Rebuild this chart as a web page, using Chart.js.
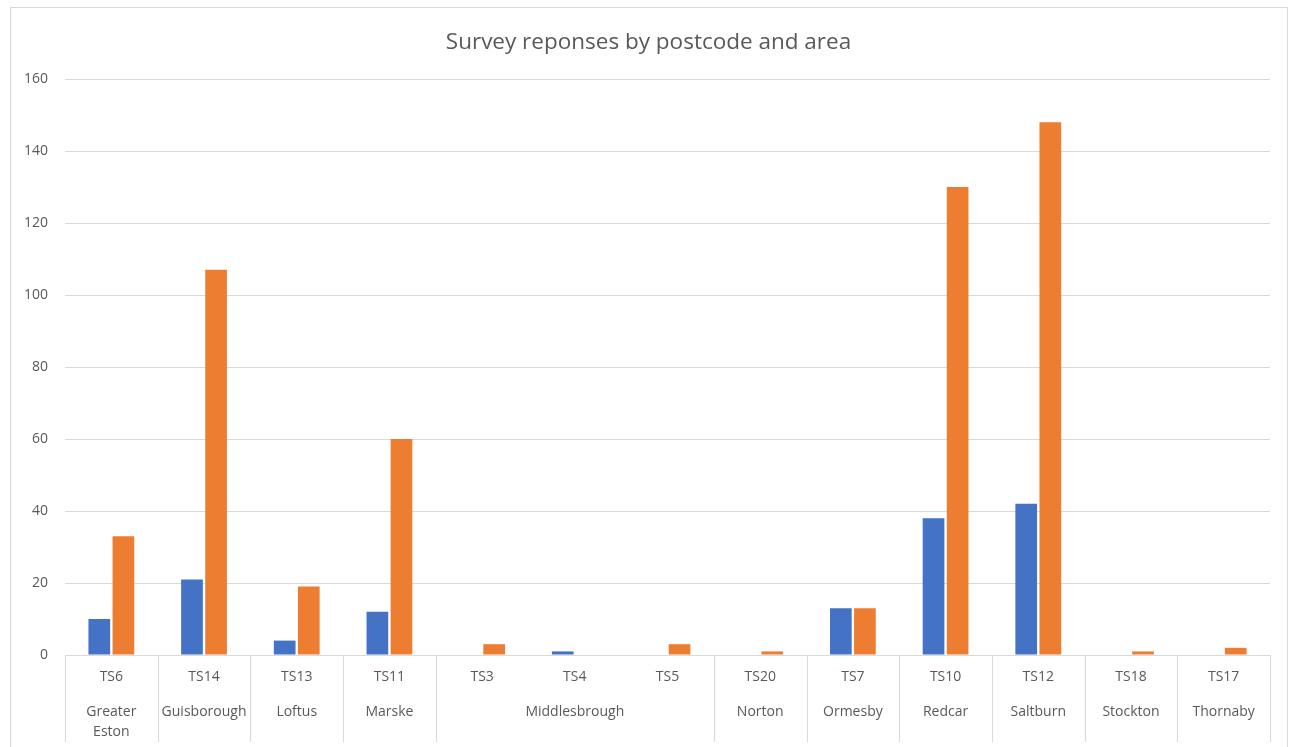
<!DOCTYPE html>
<html>
<head>
<meta charset="utf-8">
<script src="https://cdn.jsdelivr.net/npm/chart.js@4.4.1/dist/chart.umd.min.js"></script>
<style>
  html, body { margin: 0; padding: 0; background: #fff; }
  #wrap { position: relative; width: 1298px; height: 747px; }
</style>
</head>
<body>
<div id="wrap"><canvas id="surveyChart"></canvas></div>
<script>
// Postcodes in axis order, with the area each one belongs to
const postcodes = ["TS6", "TS14", "TS13", "TS11", "TS3", "TS4", "TS5", "TS20", "TS7", "TS10", "TS12", "TS18", "TS17"];
const areaNames = ["Greater Eston", "Guisborough", "Loftus", "Marske", "Middlesbrough", "Norton", "Ormesby", "Redcar", "Saltburn", "Stockton", "Thornaby"];
const areaSpans = [1, 1, 1, 1, 3, 1, 1, 1, 1, 1, 1];

// Response counts per postcode
const seriesBlue = [10, 21, 4, 12, 0, 1, 0, 0, 13, 38, 42, 0, 0];
const seriesOrange = [33, 107, 19, 60, 3, 0, 3, 1, 13, 130, 148, 1, 2];

const yTicks = [0, 20, 40, 60, 80, 100, 120, 140, 160];

const chartTitle = "Survey reponses by postcode and area";

const FONT = "'Open Sans', Lato, sans-serif";
const TEXT = "#595959";
const LINE = "#D9D9D9";

// outer frame of the chart object
const FRAME = { left: 10, top: 7, width: 1277 };

// wrap a label onto several lines if it is wider than the space
function wrapText(ctx, text, maxWidth) {
  if (ctx.measureText(text).width <= maxWidth) return [text];
  const words = text.split(" ");
  const lines = [];
  let cur = "";
  words.forEach((w) => {
    const test = cur ? cur + " " + w : w;
    if (cur && ctx.measureText(test).width > maxWidth) {
      lines.push(cur);
      cur = w;
    } else {
      cur = test;
    }
  });
  if (cur) lines.push(cur);
  return lines;
}

// frame + title centred on it, and the second (area) level of the category axis
const areaAxis = {
  id: "areaAxis",
  beforeDraw(chart) {
    const ctx = chart.ctx;
    ctx.save();
    ctx.strokeStyle = LINE;
    ctx.lineWidth = 1;
    ctx.strokeRect(FRAME.left + 0.5, FRAME.top + 0.5, FRAME.width, 800);

    ctx.font = "22.5px " + FONT;
    ctx.fillStyle = TEXT;
    ctx.textAlign = "center";
    ctx.textBaseline = "middle";
    ctx.fillText(chartTitle, FRAME.left + FRAME.width / 2, 43);
    ctx.restore();
  },
  afterDraw(chart) {
    const ctx = chart.ctx;
    const x = chart.scales.x;
    const area = chart.chartArea;
    const step = (area.right - area.left) / postcodes.length;
    const lineBottom = area.bottom + 87;

    ctx.save();
    ctx.strokeStyle = LINE;
    ctx.lineWidth = 1;
    ctx.font = "14px " + FONT;
    ctx.fillStyle = TEXT;
    ctx.textAlign = "center";
    ctx.textBaseline = "middle";

    let idx = 0;
    areaNames.forEach((name, i) => {
      const left = x.getPixelForValue(idx) - step / 2;
      const right = x.getPixelForValue(idx + areaSpans[i] - 1) + step / 2;
      const lx = Math.round(left) + 0.5;
      ctx.beginPath();
      ctx.moveTo(lx, area.bottom);
      ctx.lineTo(lx, lineBottom);
      ctx.stroke();

      const lines = wrapText(ctx, name, right - left - 4);
      lines.forEach((ln, j) => {
        ctx.fillText(ln, (left + right) / 2, area.bottom + 57 + j * 20);
      });
      idx += areaSpans[i];
    });
    const rx = Math.round(area.right) + 0.5;
    ctx.beginPath();
    ctx.moveTo(rx, area.bottom);
    ctx.lineTo(rx, lineBottom);
    ctx.stroke();
    ctx.restore();
  },
};

const ctx = document.getElementById("surveyChart").getContext("2d");
new Chart(ctx, {
  type: "bar",
  data: {
    labels: postcodes,
    datasets: [
      {
        label: "Series1",
        data: seriesBlue,
        backgroundColor: "#4472C4",
        borderWidth: 0,
        categoryPercentage: 0.52,
        barPercentage: 0.9,
      },
      {
        label: "Series2",
        data: seriesOrange,
        backgroundColor: "#ED7D31",
        borderWidth: 0,
        categoryPercentage: 0.52,
        barPercentage: 0.9,
      },
    ],
  },
  options: {
    responsive: true,
    maintainAspectRatio: false,
    animation: false,
    layout: { padding: { left: 0, right: 28, top: 79, bottom: 0 } },
    plugins: {
      legend: { display: false },
      tooltip: { enabled: false },
      title: { display: false },
    },
    scales: {
      x: {
        grid: { display: false, drawTicks: false },
        border: { display: true, color: LINE },
        ticks: {
          color: TEXT,
          font: { family: FONT, size: 14 },
          padding: 14,
          maxRotation: 0,
        },
        afterFit(scale) {
          scale.height = 92;
        },
      },
      y: {
        min: 0,
        max: 160,
        afterBuildTicks(scale) {
          scale.ticks = yTicks.map((v) => ({ value: v }));
        },
        grid: { color: LINE, drawTicks: false },
        border: { display: false },
        ticks: {
          color: TEXT,
          font: { family: FONT, size: 14 },
          padding: 17,
        },
        afterFit(scale) {
          scale.width = 65;
        },
      },
    },
  },
  plugins: [areaAxis],
});
</script>
</body>
</html>
